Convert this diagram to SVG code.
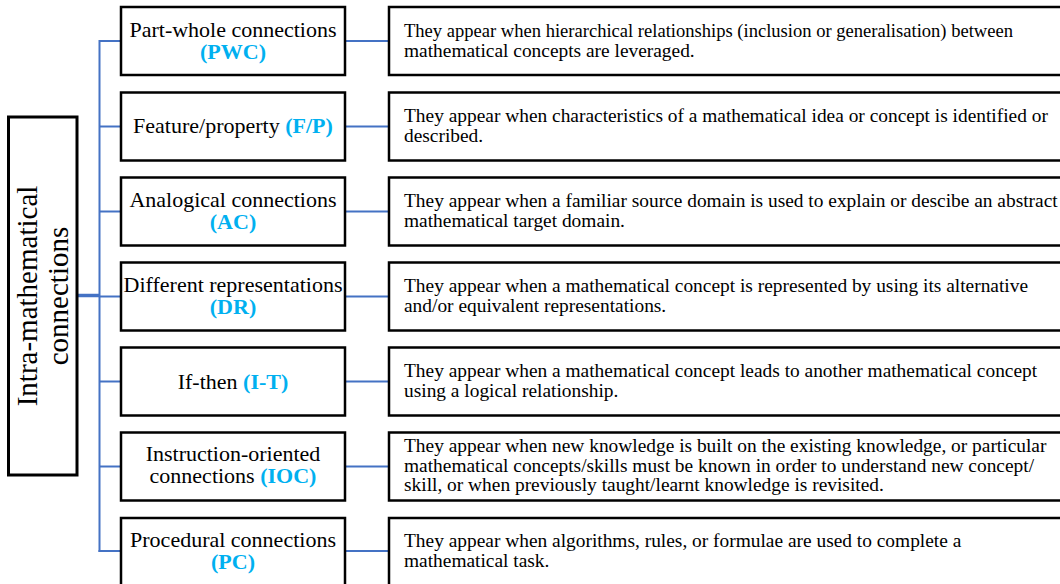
<svg xmlns="http://www.w3.org/2000/svg" width="1060" height="584" viewBox="0 0 1060 584">
<style>
.box{fill:#fff;stroke:#000;stroke-width:2.5}
.lbl{font-family:"Liberation Serif","Times New Roman",serif;font-size:22px;fill:#000;text-anchor:middle}
.ab{font-weight:bold;fill:#00B0F0}
.desc{font-family:"Liberation Serif","Times New Roman",serif;font-size:19.4px;fill:#000}
.ttl{font-family:"Liberation Serif","Times New Roman",serif;font-size:29px;fill:#000;text-anchor:middle}
.con{stroke:#4472C4;stroke-width:2;fill:none}
</style>
<rect width="1060" height="584" fill="#fff"/>
<g id="connectors">
<line class="con" x1="99.5" y1="40" x2="99.5" y2="552"/>
<line class="con" x1="99.5" y1="41" x2="121" y2="41"/>
<line class="con" x1="99.5" y1="126.5" x2="121" y2="126.5"/>
<line class="con" x1="99.5" y1="211.5" x2="121" y2="211.5"/>
<line class="con" x1="99.5" y1="296.5" x2="121" y2="296.5"/>
<line class="con" x1="99.5" y1="381.5" x2="121" y2="381.5"/>
<line class="con" x1="99.5" y1="466.5" x2="121" y2="466.5"/>
<line class="con" x1="98.5" y1="551" x2="121" y2="551"/>
<line class="con" x1="77" y1="295.5" x2="99.5" y2="295.5" style="stroke-width:3.5"/>
<line class="con" x1="345" y1="41" x2="389" y2="41"/>
<line class="con" x1="345" y1="126.5" x2="389" y2="126.5"/>
<line class="con" x1="345" y1="211.5" x2="389" y2="211.5"/>
<line class="con" x1="345" y1="296.5" x2="389" y2="296.5"/>
<line class="con" x1="345" y1="381.5" x2="389" y2="381.5"/>
<line class="con" x1="345" y1="466.5" x2="389" y2="466.5"/>
<line class="con" x1="345" y1="551" x2="389" y2="551"/>
</g>
<g id="root">
<rect class="box" x="8.5" y="117" width="68.5" height="358" style="stroke-width:3"/>
<text class="ttl" transform="translate(37,296) rotate(-90)">Intra-mathematical</text>
<text class="ttl" transform="translate(68,296) rotate(-90)">connections</text>
</g>
<g id="pwc">
<rect class="box" x="121" y="7" width="224" height="68"/>
<text class="lbl" x="233" y="37">Part-whole connections</text>
<text class="lbl ab" x="233" y="59">(PWC)</text>
</g>
<g id="fp">
<rect class="box" x="121" y="92.5" width="224" height="68"/>
<text class="lbl" x="233" y="133">Feature/property <tspan class="ab">(F/P)</tspan></text>
</g>
<g id="ac">
<rect class="box" x="121" y="177.5" width="224" height="68"/>
<text class="lbl" x="233" y="207">Analogical connections</text>
<text class="lbl ab" x="233" y="229">(AC)</text>
</g>
<g id="dr">
<rect class="box" x="121" y="262.5" width="224" height="68"/>
<text class="lbl" x="233" y="292">Different representations</text>
<text class="lbl ab" x="233" y="314">(DR)</text>
</g>
<g id="it">
<rect class="box" x="121" y="347.5" width="224" height="68"/>
<text class="lbl" x="233" y="388.5">If-then <tspan class="ab">(I-T)</tspan></text>
</g>
<g id="ioc">
<rect class="box" x="121" y="432.5" width="224" height="68"/>
<text class="lbl" x="233" y="461">Instruction-oriented</text>
<text class="lbl" x="233" y="483">connections <tspan class="ab">(IOC)</tspan></text>
</g>
<g id="pc">
<rect class="box" x="121" y="518" width="224" height="68"/>
<text class="lbl" x="233" y="547">Procedural connections</text>
<text class="lbl ab" x="233" y="569">(PC)</text>
</g>
<g id="d-pwc">
<rect class="box" x="389" y="7" width="690" height="68"/>
<text class="desc" x="404" y="37" textLength="609" lengthAdjust="spacingAndGlyphs">They appear when hierarchical relationships (inclusion or generalisation) between</text>
<text class="desc" x="404" y="56.5">mathematical concepts are leveraged.</text>
</g>
<g id="d-fp">
<rect class="box" x="389" y="92.5" width="690" height="68"/>
<text class="desc" x="404" y="122">They appear when characteristics of a mathematical idea or concept is identified or</text>
<text class="desc" x="404" y="141.5">described.</text>
</g>
<g id="d-ac">
<rect class="box" x="389" y="177.5" width="690" height="68"/>
<text class="desc" x="404" y="207">They appear when a familiar source domain is used to explain or descibe an abstract</text>
<text class="desc" x="404" y="226.5">mathematical target domain.</text>
</g>
<g id="d-dr">
<rect class="box" x="389" y="262.5" width="690" height="68"/>
<text class="desc" x="404" y="292">They appear when a mathematical concept is represented by using its alternative</text>
<text class="desc" x="404" y="311.5">and/or equivalent representations.</text>
</g>
<g id="d-it">
<rect class="box" x="389" y="347.5" width="690" height="68"/>
<text class="desc" x="404" y="377">They appear when a mathematical concept leads to another mathematical concept</text>
<text class="desc" x="404" y="396.5">using a logical relationship.</text>
</g>
<g id="d-ioc">
<rect class="box" x="389" y="432.5" width="690" height="68"/>
<text class="desc" x="404" y="452">They appear when new knowledge is built on the existing knowledge, or particular</text>
<text class="desc" x="404" y="471.5">mathematical concepts/skills must be known in order to understand new concept/</text>
<text class="desc" x="404" y="491">skill, or when previously taught/learnt knowledge is revisited.</text>
</g>
<g id="d-pc">
<rect class="box" x="389" y="518" width="690" height="68"/>
<text class="desc" x="404" y="547">They appear when algorithms, rules, or formulae are used to complete a</text>
<text class="desc" x="404" y="566.5">mathematical task.</text>
</g>
</svg>
